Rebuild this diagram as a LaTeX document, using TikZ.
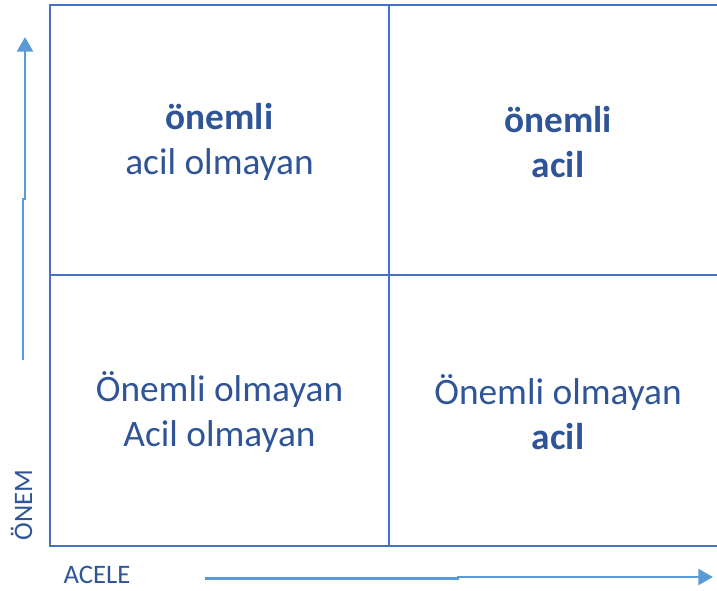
\documentclass[tikz,border=0pt]{standalone}
\usepackage{fontspec}
\setmainfont{Carlito}
\usetikzlibrary{arrows.meta,positioning}
\definecolor{gridblue}{HTML}{4472C4}
\definecolor{arrowblue}{HTML}{5B9BD5}
\definecolor{textblue}{HTML}{2F5597}
\tikzset{
    celltext/.style={text=textblue, align=center, font=\fontsize{28}{34}\selectfont},
    axislabel/.style={text=textblue, font=\fontsize{20}{24}\selectfont},
    gridline/.style={draw=gridblue, line width=1.6pt},
    axisarrow/.style={draw=arrowblue, line width=1.8pt, -{Triangle[length=11pt,width=12pt]}}
}

\begin{document}
\begin{tikzpicture}[x=0.75pt, y=-0.75pt]
        \useasboundingbox (0,0) rectangle (717,591);

        % Matrix
        \draw[gridline] (730,5) -- (50,5) -- (50,546) -- (730,546);
        \draw[gridline] (389,5) -- (389,546);
        \draw[gridline] (50,275) -- (730,275);

        % Cells
        \node[celltext] (topleft) at (219.5,142) {\textbf{önemli}\\acil olmayan};
        \node[celltext] (topright) at (558,142) {\textbf{önemli}\\\textbf{acil}};
        \node[celltext] (botleft) at (219.5,412) {Önemli olmayan\\Acil olmayan};
        \node[celltext] (botright) at (558,412) {Önemli olmayan\\\textbf{acil}};

        % Axes
        \node[axislabel, rotate=90, anchor=base] (importance) at (32,505) {ÖNEM};
        \node[axislabel, anchor=base] (hurry) at (97,583) {ACELE};

        \coordinate (upstart) at (23,360);
        \coordinate (upend) at (25,37);
        \coordinate (rightstart) at (205,578.5);
        \coordinate (rightend) at (713,577);
        \draw[axisarrow] (upstart) -- (23,199) -- (25,199) -- (upend);
        \draw[axisarrow] (rightstart) -- (458,578.5) -- (458,577) -- (rightend);
    \end{tikzpicture}
\end{document}
